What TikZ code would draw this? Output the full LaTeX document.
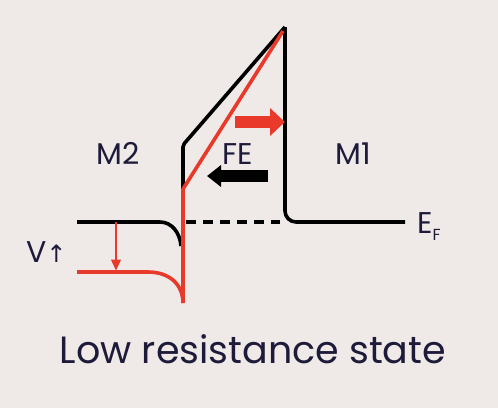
\documentclass[tikz,border=0pt]{standalone}
\usepackage{fontspec}
\setmainfont{Poppins}
\newfontfamily\symfont{DejaVu Sans}
\usetikzlibrary{arrows.meta}
\definecolor{bg}{HTML}{EFEAE8}
\definecolor{ink}{HTML}{1E1B3A}
\definecolor{fered}{HTML}{E8392B}
\tikzset{
  band/.style={line width=3.6pt, line join=round},
  redband/.style={band, draw=fered},
  lbl/.style={text=ink, font=\fontsize{30}{32}\selectfont, inner sep=0pt, anchor=base},
  bigarrow/.style={line width=12pt, -{Triangle[length=15pt, width=27pt]}},
}
\begin{document}
\begin{tikzpicture}[x=1pt, y=-1pt]
\fill[bg] (0,0) rectangle (498,408);
\useasboundingbox (0,0) rectangle (498,408);
% coordinates
\coordinate (efL) at (77,222);
\coordinate (efBend) at (160,222);
\coordinate (ifBot) at (181,246);
\coordinate (feBL) at (183,189);
\coordinate (feTL) at (183,145);
\coordinate (feTop) at (285,27);
\coordinate (feBR) at (285,222);
\coordinate (efR) at (405,222);
\coordinate (rTop) at (283,31);
\coordinate (rL) at (77,272);
\coordinate (rBend) at (148,272);
\coordinate (rBot) at (183,303);
% black band
\draw[band] (efL) -- (efBend) .. controls (172,222) and (180,233) .. (ifBot);
\draw[band, dash pattern=on 10pt off 7pt] (186,222) -- (280,222);
\draw[band, rounded corners=2pt] (feBL) -- (feTL) -- (feTop);
\draw[band, rounded corners=11pt] (feTop) -- (feBR) -- (efR);
% red band
\draw[redband] (rTop) -- (feBL) -- (rBot);
\draw[redband] (rL) -- (rBend) .. controls (170,272) and (183,285) .. (rBot);
% thin red arrow
\coordinate (vTop) at (116,222);
\coordinate (vBot) at (116,270.5);
\draw[fered, line width=1.4pt, -{Triangle[length=11pt, width=10pt]}] (vTop) -- (vBot);
% polarization arrows
\coordinate (raS) at (235,122);
\coordinate (raE) at (285,122);
\draw[bigarrow, fered] (raS) -- (raE);
\coordinate (baS) at (268,176);
\coordinate (baE) at (207,176);
\draw[line width=12pt, -{Triangle[length=14pt, width=21pt]}] (baS) -- (baE);
% labels
\node[lbl] (m2) at (118,164) {M2};
\node[lbl] (fe) at (238,164) {FE};
\node[lbl] (m1) at (353,164) {M1};
\node[lbl, anchor=base west] (ef) at (417,233) {E\raisebox{-0.45ex}{\fontsize{16}{16}\selectfont F}};
\node[lbl, anchor=base west] (v) at (26,262) {V{\symfont\fontsize{24}{24}\selectfont ↑}};
\node[lbl, font=\fontsize{38}{40}\selectfont] (title) at (253,363) {Low resistance state};
\end{tikzpicture}
\end{document}
